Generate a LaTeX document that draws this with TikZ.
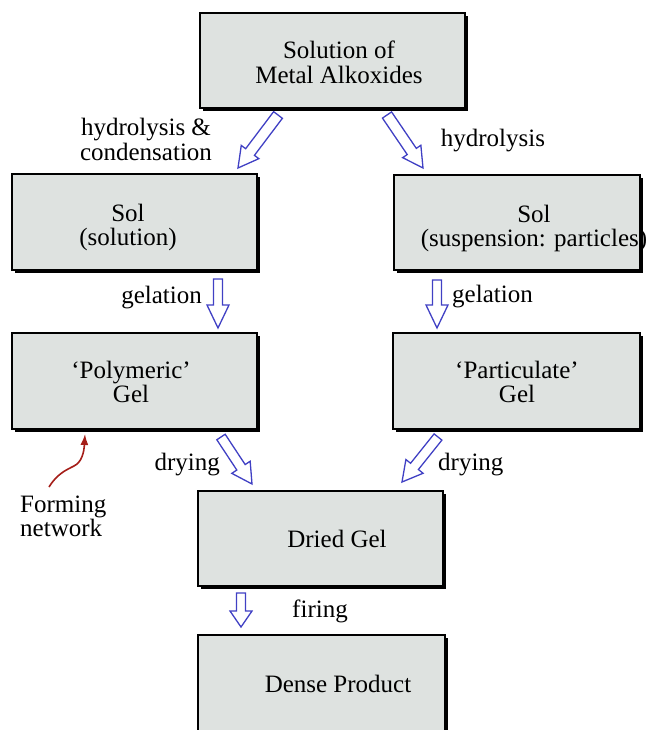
\documentclass[tikz,border=0pt]{standalone}
\usepackage{fontspec}
\setmainfont{Liberation Serif}
\usetikzlibrary{calc,shadows,arrows.meta}
\definecolor{boxgray}{RGB}{222,226,224}
\definecolor{arrblue}{RGB}{64,64,196}
\definecolor{netred}{RGB}{165,30,25}
\newcommand\twol[2]{\begin{tabular}[t]{@{}c@{}}#1\\#2\end{tabular}}
\newcommand\twoleft[2]{\begin{tabular}[t]{@{}l@{}}#1\\#2\end{tabular}}
% #1 half shaft width, #2 head length, #3 start coordinate, #4 tip coordinate
\newcommand\blockarr[4]{%
  \draw[blockarrow] let \p1=(#3), \p2=(#4),
    \n1={veclen(\x2-\x1,\y2-\y1)}, \n2={(\x2-\x1)/\n1}, \n3={(\y2-\y1)/\n1}, \n4={\n1-#2} in
    ({\x1-#1*\n3},{\y1+#1*\n2}) --
    ({\x1+\n4*\n2-#1*\n3},{\y1+\n4*\n3+#1*\n2}) --
    ({\x1+\n4*\n2-11*\n3},{\y1+\n4*\n3+11*\n2}) --
    (\p2) --
    ({\x1+\n4*\n2+11*\n3},{\y1+\n4*\n3-11*\n2}) --
    ({\x1+\n4*\n2+#1*\n3},{\y1+\n4*\n3-#1*\n2}) --
    ({\x1+#1*\n3},{\y1-#1*\n2}) -- cycle;}
\begin{document}
\begin{tikzpicture}[x=1pt,y=1pt,
  box/.style={rectangle, draw=black, line width=1.2pt, fill=boxgray, inner sep=0pt,
    drop shadow={shadow xshift=3pt, shadow yshift=-3pt, fill=black, opacity=1}},
  txt/.style={font={\fontsize{25}{24.5}\selectfont}, inner sep=0pt, anchor=base},
  blockarrow/.style={draw=arrblue, line width=1.3pt, line join=miter, fill=white},
  netarrow/.style={draw=netred, line width=1.6pt, -{Latex[length=11pt,width=8pt]}}]
\useasboundingbox (0,0) rectangle (651,-730);
\clip (0,0) rectangle (651,-730);

% boxes
\node[box, minimum width=265, minimum height=95] (b0) at (332.5,-60.5) {};
\node[box, minimum width=245, minimum height=96] (b1) at (134.5,-222) {};
\node[box, minimum width=246, minimum height=95] (b2) at (517,-222.5) {};
\node[box, minimum width=245, minimum height=96] (b3) at (134.5,-381) {};
\node[box, minimum width=247, minimum height=96] (b4) at (516.5,-381) {};
\node[box, minimum width=245, minimum height=95] (b5) at (320.5,-538.5) {};
\node[box, minimum width=247, minimum height=110] (b6) at (321.5,-690) {};

% box texts
\node[txt] (t0) at (339,-59) {\twol{Solution of}{Metal Alkoxides}};
\node[txt] (t1) at (128,-221) {\twol{Sol}{(solution)}};
\node[txt] (t2) at (534,-222) {\twol{Sol}{(suspension: particles)}};
\node[txt] (t3) at (131,-378) {\twol{‘Polymeric’}{Gel}};
\node[txt] (t4) at (517,-378) {\twol{‘Particulate’}{Gel}};
\node[txt] (t5) at (337,-547) {Dried Gel};
\node[txt] (t6) at (338,-692) {Dense Product};

% arrow labels
\node[txt] (lhc) at (146,-136) {\twol{hydrolysis \&}{condensation}};
\node[txt] (lh) at (493,-147) {hydrolysis};
\node[txt, anchor=base east] (lg1) at (202,-303) {gelation};
\node[txt, anchor=base west] (lg2) at (452,-302) {gelation};
\node[txt, anchor=base east] (ld1) at (220,-470) {drying};
\node[txt, anchor=base west] (ld2) at (438,-470) {drying};
\node[txt] (lf) at (320,-617) {firing};
\node[txt, anchor=base west] (lfn) at (20,-512) {\twoleft{Forming}{network}};

% block arrow ends
\coordinate (a1s) at (278,-115); \coordinate (a1e) at (238,-168);
\coordinate (a2s) at (387,-115); \coordinate (a2e) at (423,-168);
\coordinate (a3s) at (218,-279); \coordinate (a3e) at (218,-328);
\coordinate (a4s) at (437,-280); \coordinate (a4e) at (437,-328);
\coordinate (a5s) at (221,-437); \coordinate (a5e) at (252,-484);
\coordinate (a6s) at (438,-437); \coordinate (a6e) at (402,-482);
\coordinate (a7s) at (241,-593); \coordinate (a7e) at (241,-627);

\blockarr{5.5}{20}{a1s}{a1e}
\blockarr{5.5}{20}{a2s}{a2e}
\blockarr{4.5}{23}{a3s}{a3e}
\blockarr{4.5}{23}{a4s}{a4e}
\blockarr{5}{20}{a5s}{a5e}
\blockarr{5}{20}{a6s}{a6e}
\blockarr{4.5}{16}{a7s}{a7e}

% forming network arrow
\coordinate (fns) at (49,-487);
\coordinate (fnm) at (74,-466);
\coordinate (fne) at (85,-434);
\draw[netarrow] (fns) .. controls (57,-474) and (66,-470) .. (fnm)
  .. controls (82,-462) and (84,-452) .. (fne);
\end{tikzpicture}
\end{document}
